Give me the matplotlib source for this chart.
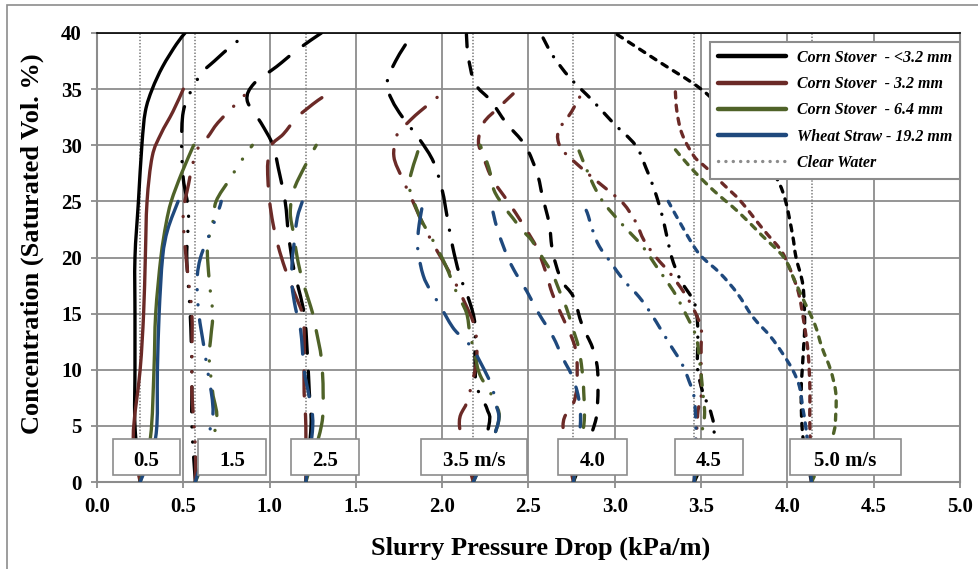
import numpy as np
import matplotlib.pyplot as plt
from matplotlib.path import Path
from matplotlib.patches import PathPatch, Rectangle
from matplotlib.lines import Line2D

plt.rcParams['font.family'] = 'Liberation Serif'
plt.rcParams['font.weight'] = 'bold'
plt.rcParams['lines.scale_dashes'] = False

velocities = [0.5, 1.5, 2.5, 3.5, 4.0, 4.5, 5.0]
velocity_labels = ['0.5', '1.5', '2.5', '3.5 m/s', '4.0', '4.5', '5.0 m/s']
clear_water = [0.25, 0.57, 1.21, 2.18, 2.76, 3.46, 4.14]

materials = ['Corn Stover  - <3.2 mm', 'Corn Stover  - 3.2 mm',
             'Corn Stover  - 6.4 mm', 'Wheat Straw - 19.2 mm']
colors = ['#000000', '#6b2a27', '#4f6228', '#1f497d']

# velocity -> (concentration %, pressure drop kPa/m)
stover_lt32 = {
    0.5: ([0, 5, 10, 15, 20, 25, 30, 33, 35, 37, 39, 40],
          [0.25, 0.22, 0.22, 0.22, 0.22, 0.24, 0.26, 0.28, 0.32, 0.38, 0.46, 0.51]),
    1.5: ([0, 5, 10, 15, 20, 24, 27, 30, 33, 35, 36.5, 37.5, 39, 40],
          [0.57, 0.55, 0.55, 0.54, 0.52, 0.53, 0.5, 0.49, 0.5, 0.55, 0.61, 0.68, 0.79, 0.88]),
    2.5: ([0, 5, 8, 11, 15, 19, 22, 25, 28, 30, 32, 34, 35.5, 37, 38.5, 40],
          [1.21, 1.24, 1.23, 1.22, 1.2, 1.14, 1.11, 1.09, 1.05, 1.02, 0.95, 0.87, 0.91, 1.04, 1.16, 1.3]),
    3.5: ([0, 5, 6.5, 8.5, 11, 14, 16, 18.5, 21, 23.5, 26, 28.5, 30.5, 32.5, 34, 35.5, 37.5, 40],
          [2.18, 2.27, 2.26, 2.2, 2.19, 2.19, 2.16, 2.1, 2.06, 2.03, 2.0, 1.95, 1.87, 1.77, 1.71, 1.68, 1.73, 1.83]),
    4.0: ([0, 5, 7, 10, 12, 14, 16.5, 18, 20.5, 23, 25.5, 27.5, 30, 32, 34, 35.5, 38, 40],
          [2.76, 2.88, 2.9, 2.9, 2.87, 2.81, 2.76, 2.69, 2.64, 2.62, 2.58, 2.55, 2.48, 2.37, 2.28, 2.19, 2.15, 2.14]),
    4.5: ([0, 4, 6, 8, 10, 12, 14, 16, 18, 20, 22, 24, 26, 28, 30, 32, 34, 36, 38, 40],
          [3.46, 3.57, 3.56, 3.51, 3.48, 3.48, 3.48, 3.46, 3.38, 3.33, 3.3, 3.27, 3.23, 3.18, 3.12, 2.99, 2.87, 2.74, 2.64, 2.57]),
    5.0: ([0, 4, 8, 11, 14, 17.5, 20, 22, 25, 27, 30, 32.5, 35, 37.5, 40],
          [4.14, 4.09, 4.08, 4.09, 4.1, 4.09, 4.05, 4.03, 3.99, 3.94, 3.82, 3.67, 3.5, 3.25, 3.0]),
}

stover_32 = {
    0.5: ([0, 4, 10, 15, 20, 25, 29, 31, 33, 35],
          [0.25, 0.21, 0.25, 0.27, 0.28, 0.29, 0.32, 0.37, 0.44, 0.5]),
    1.5: ([0, 3, 8, 11, 15, 18, 21, 24, 26.5, 28, 29.6, 30.7, 32, 33.6, 35],
          [0.57, 0.57, 0.55, 0.55, 0.55, 0.53, 0.51, 0.5, 0.53, 0.55, 0.58, 0.64, 0.7, 0.8, 0.89]),
    2.5: ([0, 5, 8, 11, 13.5, 15, 17, 19, 21, 23, 25, 27, 28.5, 30, 31, 32.5, 34, 35],
          [1.21, 1.21, 1.2, 1.2, 1.2, 1.19, 1.14, 1.09, 1.05, 1.02, 1.0, 0.99, 0.99, 1.01, 1.08, 1.16, 1.28, 1.38]),
    3.5: ([0, 5, 7, 8.6, 11, 13.7, 16, 18.2, 20.6, 22.6, 25, 27, 29, 31, 32, 33, 35],
          [2.18, 2.1, 2.14, 2.17, 2.2, 2.19, 2.13, 2.06, 1.97, 1.9, 1.83, 1.77, 1.72, 1.74, 1.8, 1.87, 2.03]),
    4.0: ([0, 5, 7, 8.5, 11, 12.5, 14.6, 16.7, 18.7, 20.8, 22.9, 25, 27, 28.9, 30.3, 32, 33.4, 35],
          [2.76, 2.7, 2.76, 2.78, 2.78, 2.76, 2.7, 2.64, 2.6, 2.55, 2.47, 2.38, 2.29, 2.24, 2.21, 2.24, 2.33, 2.44]),
    4.5: ([0, 6, 7.5, 10, 12, 13.7, 15.3, 16.9, 18.6, 20, 21.5, 23.2, 24.8, 26, 27, 28.2, 29.5, 30.5, 31.5, 33, 35],
          [3.46, 3.48, 3.5, 3.5, 3.5, 3.5, 3.46, 3.4, 3.32, 3.24, 3.17, 3.12, 3.05, 2.96, 2.88, 2.79, 2.7, 2.67, 2.68, 2.75, 2.82]),
    5.0: ([0, 5, 8.5, 11.5, 13.8, 16.5, 18, 19.5, 20.7, 22.5, 25, 26.5, 28, 29, 31, 33, 35],
          [4.14, 4.13, 4.13, 4.12, 4.1, 4.07, 4.04, 4.0, 3.96, 3.86, 3.73, 3.63, 3.53, 3.46, 3.39, 3.36, 3.35]),
}

stover_64 = {
    0.5: ([0, 4, 10, 15, 20, 23, 25, 27.5, 30],
          [0.25, 0.31, 0.33, 0.34, 0.37, 0.4, 0.43, 0.49, 0.56]),
    1.5: ([0, 5, 8, 11, 13, 15, 18, 21, 23, 25, 27, 28.7, 30],
          [0.57, 0.69, 0.67, 0.65, 0.66, 0.67, 0.65, 0.64, 0.67, 0.69, 0.77, 0.84, 0.9]),
    2.5: ([0, 5, 8, 11, 13.5, 15, 18, 20, 22, 24, 26, 28, 30],
          [1.21, 1.3, 1.31, 1.3, 1.27, 1.25, 1.19, 1.16, 1.14, 1.12, 1.14, 1.2, 1.27]),
    3.5: ([0, 5, 7, 9.5, 11.3, 13.3, 15.1, 17, 19.3, 21.7, 23, 24, 26.2, 27.5, 29, 30],
          [2.18, 2.32, 2.31, 2.22, 2.19, 2.16, 2.14, 2.08, 2.02, 1.94, 1.89, 1.86, 1.81, 1.82, 1.85, 1.87]),
    4.0: ([0, 5, 8, 10, 12, 14, 15.5, 17, 18.5, 20, 21.5, 22.5, 23.5, 24.5, 26, 28, 30],
          [2.76, 2.82, 2.82, 2.81, 2.79, 2.75, 2.72, 2.68, 2.64, 2.58, 2.52, 2.46, 2.41, 2.36, 2.3, 2.27, 2.22]),
    4.5: ([0, 4, 6, 8, 11, 13, 15, 17, 19, 21, 23, 25, 27, 30],
          [3.46, 3.5, 3.52, 3.51, 3.49, 3.47, 3.41, 3.34, 3.25, 3.16, 3.04, 2.93, 2.86, 2.78]),
    5.0: ([0, 4, 6, 8, 10, 12, 14, 16, 18, 20, 22, 24, 26, 28, 30],
          [4.14, 4.26, 4.28, 4.28, 4.25, 4.2, 4.16, 4.1, 4.04, 3.98, 3.85, 3.72, 3.57, 3.44, 3.33]),
}

straw_192 = {
    0.5: ([0, 4, 10, 15, 20, 22.5, 25],
          [0.25, 0.34, 0.35, 0.36, 0.38, 0.41, 0.47]),
    1.5: ([0, 5, 7, 10, 12, 15, 18, 20, 22, 24, 25],
          [0.57, 0.66, 0.67, 0.64, 0.62, 0.59, 0.58, 0.6, 0.65, 0.7, 0.72]),
    2.5: ([0, 5, 7.5, 10, 13.5, 15.5, 17.5, 19.5, 21, 23.5, 25],
          [1.21, 1.25, 1.23, 1.2, 1.18, 1.15, 1.13, 1.13, 1.14, 1.16, 1.19]),
    3.5: ([0, 5, 7, 8.4, 9.5, 11.8, 12.8, 13.8, 15.9, 17.1, 18.4, 20.5, 22, 23.3, 25],
          [2.18, 2.32, 2.31, 2.29, 2.26, 2.18, 2.12, 2.06, 1.98, 1.93, 1.89, 1.86, 1.86, 1.87, 1.89]),
    4.0: ([0, 5, 7.5, 9.5, 11, 13, 15, 17, 18.5, 20, 22.5, 25],
          [2.76, 2.8, 2.79, 2.75, 2.7, 2.64, 2.56, 2.49, 2.43, 2.38, 2.32, 2.28]),
    4.5: ([0, 4.5, 7.5, 9, 10.5, 12, 13.5, 15, 16.5, 18, 19.5, 21, 22.5, 24, 25],
          [3.46, 3.47, 3.46, 3.43, 3.39, 3.33, 3.27, 3.21, 3.14, 3.05, 2.98, 2.91, 2.87, 2.84, 2.81]),
    5.0: ([0, 4.5, 6.5, 8.5, 10, 11.5, 13, 14.7, 16.8, 18.6, 20.3, 22.5, 25],
          [4.14, 4.11, 4.09, 4.07, 4.03, 3.97, 3.9, 3.8, 3.71, 3.61, 3.49, 3.4, 3.31]),
}

series = [stover_lt32, stover_32, stover_64, straw_192]

# dash pattern for each velocity (points)
styles = {
    0.5: '-',
    1.5: (0, (18, 10.8, 0.1, 10.8, 0.1, 10.8)),
    2.5: (0, (18, 13)),
    3.5: (0, (18, 10.8, 0.1, 10.8)),
    4.0: (0, (9, 11)),
    4.5: (0, (7.5, 7.9, 0.1, 7.9)),
    5.0: (0, (4.4, 5.2)),
}

label_boxes = [(0.093, 0.481), (0.585, 0.979), (1.124, 1.518), (1.877, 2.491),
               (2.671, 3.071), (3.349, 3.743), (4.015, 4.658)]


def smooth_path(x, y):
    # Catmull-Rom style bezier through the points, like Excel's smoothed line
    pts = np.column_stack([x, y]).astype(float)
    n = len(pts)
    verts = [pts[0]]
    codes = [Path.MOVETO]
    for i in range(n - 1):
        p0 = pts[max(i - 1, 0)]
        p1 = pts[i]
        p2 = pts[i + 1]
        p3 = pts[min(i + 2, n - 1)]
        verts += [p1 + (p2 - p0) / 6, p2 - (p3 - p1) / 6, p2]
        codes += [Path.CURVE4] * 3
    return Path(verts, codes)


fig = plt.figure(figsize=(9.79, 5.69), dpi=100)
ax = fig.add_axes([97 / 979, 87 / 569, 863 / 979, 449 / 569])

grey = '#8c8c8c'
ax.set_xlim(0, 5)
ax.set_ylim(0, 40)
ax.set_xticks(np.arange(0, 5.01, 0.5))
ax.set_yticks(np.arange(0, 41, 5))
ax.set_xticklabels(['%.1f' % v for v in np.arange(0, 5.01, 0.5)])
ax.grid(True, color=grey, lw=1.3)
ax.set_axisbelow(True)
ax.tick_params(direction='out', length=4, width=1.3, color=grey,
               labelsize=15, pad=7)
for side in ['left', 'bottom', 'right']:
    ax.spines[side].set_color(grey)
    ax.spines[side].set_linewidth(1.5)
ax.spines['top'].set_color('black')
ax.spines['top'].set_linewidth(1.2)

ax.vlines(clear_water, 0, 40, colors='#808080', linestyles=(0, (1.0, 1.3)),
          lw=1.2, zorder=2)

for data, col in zip(series, colors):
    for v in velocities:
        conc, dp = data[v]
        patch = PathPatch(smooth_path(dp, conc), facecolor='none', edgecolor=col,
                          lw=2.4, linestyle=styles[v], capstyle='round',
                          joinstyle='round', zorder=3)
        ax.add_patch(patch)

for (x0, x1), txt in zip(label_boxes, velocity_labels):
    ax.add_patch(Rectangle((x0, 0.6), x1 - x0, 3.25, facecolor='white',
                           edgecolor=grey, lw=1.2, zorder=5))
    ax.text((x0 + x1) / 2, 1.9, txt, ha='center', va='center', fontsize=15,
            fontweight='bold', zorder=6)

ax.set_xlabel('Slurry Pressure Drop (kPa/m)', fontsize=19, fontweight='bold')
ax.set_ylabel('Concentration (Saturated Vol. %)', fontsize=19, fontweight='bold')
ax.xaxis.set_label_coords(0.514, -0.122)
ax.yaxis.set_label_coords(-0.061, 0.53)

handles = [Line2D([], [], color=c, lw=3.2, solid_capstyle='round') for c in colors]
handles.append(Line2D([], [], color=grey, lw=2.4, linestyle=(0, (0.1, 5.2)),
                      dash_capstyle='round'))
leg = ax.legend(handles, materials + ['Clear Water'], loc='upper right',
                bbox_to_anchor=(1.0, 0.98), borderaxespad=0, fancybox=False,
                framealpha=1, edgecolor=grey, handlelength=4.3,
                handletextpad=0.65, labelspacing=0.64, borderpad=0.5,
                prop={'family': 'Liberation Serif', 'weight': 'bold',
                      'style': 'italic', 'size': 11.5})
leg.get_frame().set_linewidth(1.5)
leg.set_zorder(7)

# outer chart border
fig.patches.append(Rectangle((7 / 979, -0.05), 1.1, 1.05 - 5 / 569,
                             transform=fig.transFigure, fill=False,
                             edgecolor=grey, lw=1.2))

fig.savefig('out.png', dpi=100)
